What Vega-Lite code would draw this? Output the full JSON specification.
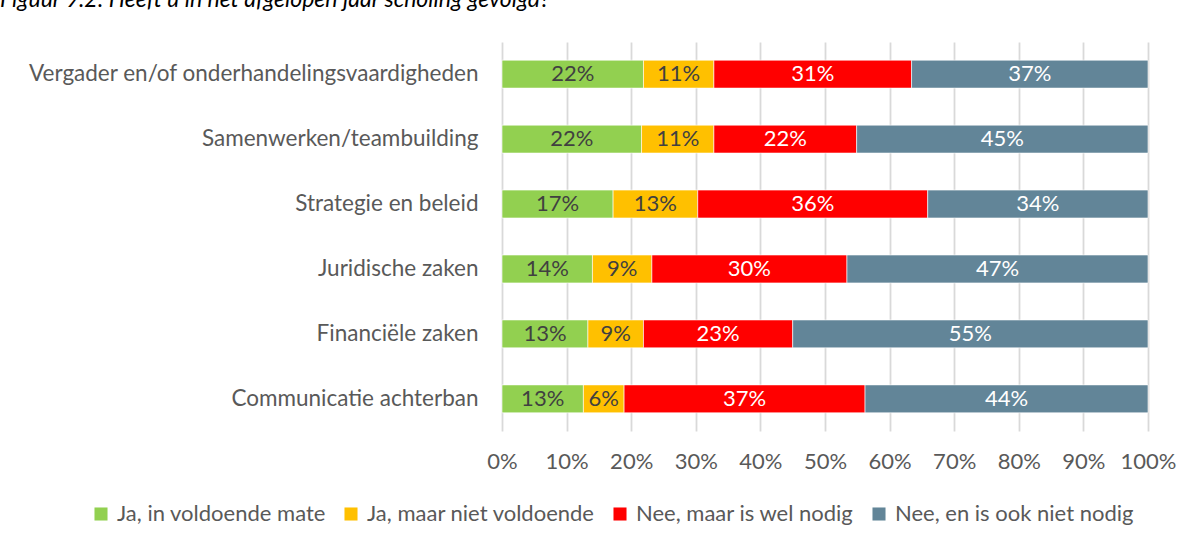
{
  "$schema": "https://vega.github.io/schema/vega-lite/v6.json",
  "width": 646,
  "height": 389,
  "autosize": {"type": "none"},
  "padding": {"left": 502, "top": 42, "right": 42, "bottom": 114},
  "background": "white",
  "title": {
    "text": "Figuur 9.2: Heeft u in het afgelopen jaar scholing gevolgd?",
    "anchor": "start",
    "frame": "group",
    "dx": -502,
    "offset": 30,
    "font": "Lato",
    "fontSize": 23,
    "fontStyle": "italic",
    "fontWeight": "normal",
    "color": "#000000"
  },
  "data": {
    "values": [
      {"onderwerp": "Vergader en/of onderhandelingsvaardigheden", "antwoord": "Ja, in voldoende mate", "rank": 0, "aandeel": 0.219},
      {"onderwerp": "Vergader en/of onderhandelingsvaardigheden", "antwoord": "Ja, maar niet voldoende", "rank": 1, "aandeel": 0.109},
      {"onderwerp": "Vergader en/of onderhandelingsvaardigheden", "antwoord": "Nee, maar is wel nodig", "rank": 2, "aandeel": 0.306},
      {"onderwerp": "Vergader en/of onderhandelingsvaardigheden", "antwoord": "Nee, en is ook niet nodig", "rank": 3, "aandeel": 0.366},
      {"onderwerp": "Samenwerken/teambuilding", "antwoord": "Ja, in voldoende mate", "rank": 0, "aandeel": 0.216},
      {"onderwerp": "Samenwerken/teambuilding", "antwoord": "Ja, maar niet voldoende", "rank": 1, "aandeel": 0.112},
      {"onderwerp": "Samenwerken/teambuilding", "antwoord": "Nee, maar is wel nodig", "rank": 2, "aandeel": 0.221},
      {"onderwerp": "Samenwerken/teambuilding", "antwoord": "Nee, en is ook niet nodig", "rank": 3, "aandeel": 0.451},
      {"onderwerp": "Strategie en beleid", "antwoord": "Ja, in voldoende mate", "rank": 0, "aandeel": 0.172},
      {"onderwerp": "Strategie en beleid", "antwoord": "Ja, maar niet voldoende", "rank": 1, "aandeel": 0.131},
      {"onderwerp": "Strategie en beleid", "antwoord": "Nee, maar is wel nodig", "rank": 2, "aandeel": 0.356},
      {"onderwerp": "Strategie en beleid", "antwoord": "Nee, en is ook niet nodig", "rank": 3, "aandeel": 0.341},
      {"onderwerp": "Juridische zaken", "antwoord": "Ja, in voldoende mate", "rank": 0, "aandeel": 0.140},
      {"onderwerp": "Juridische zaken", "antwoord": "Ja, maar niet voldoende", "rank": 1, "aandeel": 0.092},
      {"onderwerp": "Juridische zaken", "antwoord": "Nee, maar is wel nodig", "rank": 2, "aandeel": 0.302},
      {"onderwerp": "Juridische zaken", "antwoord": "Nee, en is ook niet nodig", "rank": 3, "aandeel": 0.466},
      {"onderwerp": "Financiële zaken", "antwoord": "Ja, in voldoende mate", "rank": 0, "aandeel": 0.133},
      {"onderwerp": "Financiële zaken", "antwoord": "Ja, maar niet voldoende", "rank": 1, "aandeel": 0.086},
      {"onderwerp": "Financiële zaken", "antwoord": "Nee, maar is wel nodig", "rank": 2, "aandeel": 0.231},
      {"onderwerp": "Financiële zaken", "antwoord": "Nee, en is ook niet nodig", "rank": 3, "aandeel": 0.550},
      {"onderwerp": "Communicatie achterban", "antwoord": "Ja, in voldoende mate", "rank": 0, "aandeel": 0.126},
      {"onderwerp": "Communicatie achterban", "antwoord": "Ja, maar niet voldoende", "rank": 1, "aandeel": 0.063},
      {"onderwerp": "Communicatie achterban", "antwoord": "Nee, maar is wel nodig", "rank": 2, "aandeel": 0.373},
      {"onderwerp": "Communicatie achterban", "antwoord": "Nee, en is ook niet nodig", "rank": 3, "aandeel": 0.438}
    ]
  },
  "transform": [
    {"stack": "aandeel", "groupby": ["onderwerp"], "sort": [{"field": "rank", "order": "ascending"}], "as": ["x0", "x1"]},
    {"calculate": "(datum.x0 + datum.x1) / 2", "as": "xmid"}
  ],
  "encoding": {
    "y": {
      "field": "onderwerp",
      "type": "nominal",
      "sort": null,
      "title": null,
      "scale": {"paddingInner": 0.57, "paddingOuter": 0.28},
      "axis": {
        "ticks": false,
        "domain": false,
        "labelFont": "Lato",
        "labelFontSize": 22.5,
        "labelColor": "#595959",
        "labelPadding": 24,
        "labelLimit": 600
      }
    }
  },
  "layer": [
    {
      "mark": {"type": "bar", "stroke": "white", "strokeWidth": 0.6},
      "encoding": {
        "x": {
          "field": "x0",
          "type": "quantitative",
          "title": null,
          "scale": {"domain": [0, 1], "nice": false},
          "axis": {
            "format": ".0%",
            "values": [0, 0.1, 0.2, 0.3, 0.4, 0.5, 0.6, 0.7, 0.8, 0.9, 1],
            "grid": true,
            "gridColor": "#d9d9d9",
            "gridWidth": 1.8,
            "ticks": false,
            "domain": false,
            "labelFont": "Lato",
            "labelFontSize": 22,
            "labelColor": "#595959",
            "labelPadding": 20,
            "labelFlush": false
          }
        },
        "x2": {"field": "x1"},
        "color": {
          "field": "antwoord",
          "type": "nominal",
          "title": null,
          "scale": {
            "domain": ["Ja, in voldoende mate", "Ja, maar niet voldoende", "Nee, maar is wel nodig", "Nee, en is ook niet nodig"],
            "range": ["#92d050", "#ffc000", "#ff0000", "#628598"]
          },
          "legend": {
            "orient": "none",
            "legendX": -412,
            "legendY": 461,
            "direction": "horizontal",
            "symbolType": "square",
            "symbolSize": 170,
            "symbolStrokeWidth": 0,
            "labelFont": "Lato",
            "labelFontSize": 22,
            "labelColor": "#595959",
            "labelOffset": 5,
            "columnPadding": 14,
            "labelLimit": 400
          }
        }
      }
    },
    {
      "mark": {"type": "text", "font": "Lato", "fontSize": 22, "baseline": "middle", "align": "center"},
      "encoding": {
        "x": {"field": "xmid", "type": "quantitative"},
        "text": {"field": "aandeel", "type": "quantitative", "format": ".0%"},
        "color": {
          "condition": {"test": "datum.rank >= 2", "value": "#ffffff"},
          "value": "#404040"
        }
      }
    }
  ],
  "config": {
    "view": {"stroke": null}
  }
}
